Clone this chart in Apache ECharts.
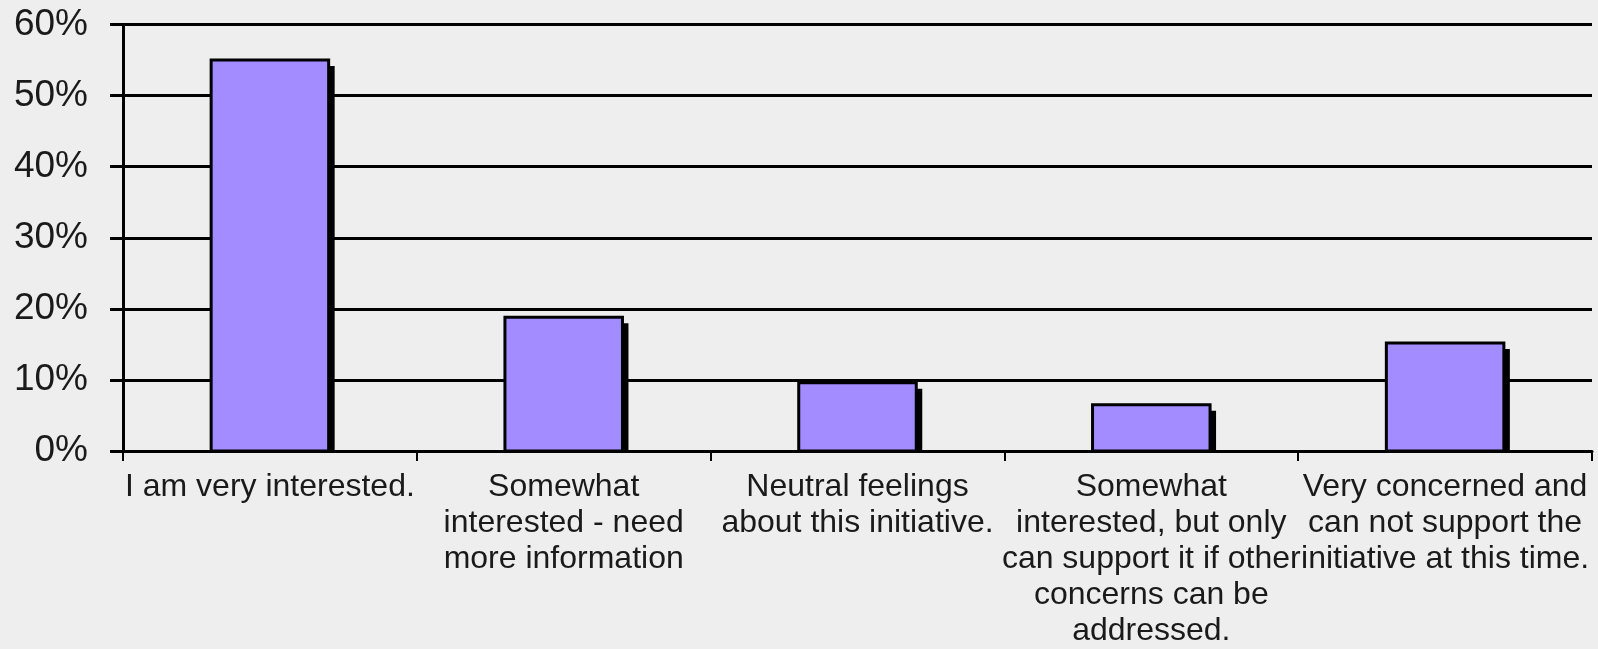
<!DOCTYPE html>
<html>
<head>
<meta charset="utf-8">
<script src="https://cdn.jsdelivr.net/npm/echarts@6/dist/echarts.min.js"></script>
<style>
  html, body { margin: 0; padding: 0; background: #eeeeee; }
  #chart { width: 1598px; height: 649px; }
</style>
</head>
<body>
<div id="chart"></div>
<script>
// Survey responses: share of respondents per answer
const categories = [
  'I am very interested.',
  'Somewhat\ninterested - need\nmore information',
  'Neutral feelings\nabout this initiative.',
  'Somewhat\ninterested, but only\ncan support it if other\nconcerns can be\naddressed.',
  'Very concerned and\ncan not support the\ninitiative at this time.'
];
const percentages = [55, 18.8, 9.6, 6.5, 15.2];
const yTicks = { min: 0, max: 60, step: 10 };

const BAR_FILL = '#a38cff';
const SHADOW = 6;

const chart = echarts.init(document.getElementById('chart'), null, { renderer: 'canvas' });

// Each bar is a bordered rectangle with a solid drop shadow behind it,
// clipped at the baseline.
function renderBar(params, api) {
  const idx = api.value(0);
  const top = api.coord([idx, api.value(1)]);
  const base = api.coord([idx, 0]);
  const w = api.size([1, 0])[0] * 0.4;
  const x = top[0] - w / 2;
  const h = base[1] - top[1];
  return {
    type: 'group',
    children: [
      {
        type: 'rect',
        shape: { x: x + SHADOW, y: top[1] + SHADOW, width: w, height: Math.max(0, h - SHADOW) },
        style: { fill: '#000' }
      },
      {
        type: 'rect',
        shape: { x: x, y: top[1], width: w, height: h },
        style: { fill: BAR_FILL, stroke: '#000', lineWidth: 3 }
      }
    ]
  };
}

chart.setOption({
  backgroundColor: '#eeeeee',
  animation: false,
  grid: { left: 123, right: 6, top: 24.5, bottom: 193 },
  xAxis: {
    type: 'category',
    data: categories,
    boundaryGap: true,
    axisLine: { show: true, lineStyle: { color: '#000', width: 3 } },
    axisTick: { show: true, length: 10, interval: 0, lineStyle: { color: '#000', width: 2 } },
    axisLabel: {
      interval: 0,
      margin: 18,
      fontFamily: 'Liberation Sans, Arial, sans-serif',
      fontSize: 32,
      lineHeight: 36,
      color: '#1a1a1a'
    },
    z: 5
  },
  yAxis: {
    type: 'value',
    min: yTicks.min,
    max: yTicks.max,
    interval: yTicks.step,
    axisLine: { show: true, lineStyle: { color: '#000', width: 3 } },
    axisTick: { show: true, length: 13, lineStyle: { color: '#000', width: 3 } },
    splitLine: { show: true, lineStyle: { color: '#000', width: 3 } },
    axisLabel: {
      margin: 35,
      formatter: '{value}%',
      fontFamily: 'Liberation Sans, Arial, sans-serif',
      fontSize: 37,
      color: '#1a1a1a'
    }
  },
  series: [{
    type: 'custom',
    renderItem: renderBar,
    encode: { x: 0, y: 1 },
    data: percentages.map((v, i) => [i, v]),
    z: 3
  }]
});
</script>
</body>
</html>
